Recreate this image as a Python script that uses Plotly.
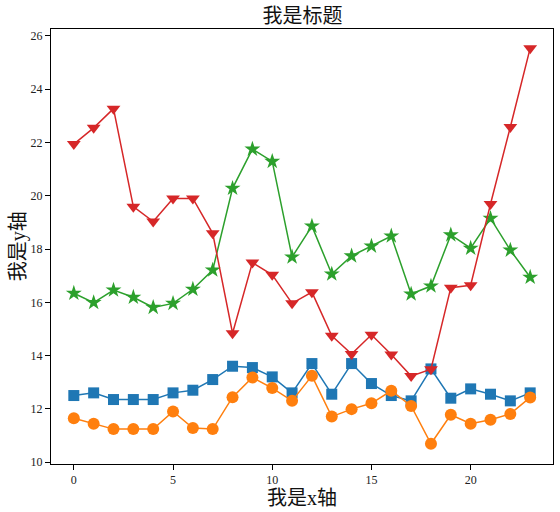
import plotly.graph_objects as go

x = list(range(24))

blue = [12.5, 12.6, 12.35, 12.35, 12.35, 12.6, 12.7, 13.1, 13.6, 13.55, 13.2, 12.6,
        13.7, 12.55, 13.7, 12.95, 12.5, 12.3, 13.5, 12.4, 12.75, 12.55, 12.3, 12.6]
orange = [11.65, 11.44, 11.24, 11.24, 11.24, 11.9, 11.28, 11.24, 12.44, 13.18, 12.78, 12.3,
          13.24, 11.71, 11.99, 12.21, 12.68, 12.11, 10.69, 11.78, 11.44, 11.59, 11.81, 12.43]
green = [16.34, 15.99, 16.46, 16.19, 15.81, 15.96, 16.49, 17.21, 20.28, 21.75, 21.29, 17.7,
         18.86, 17.06, 17.74, 18.11, 18.49, 16.31, 16.61, 18.53, 18.03, 19.15, 17.96, 16.94]
red = [21.94, 22.55, 23.27, 19.59, 19.03, 19.9, 19.9, 18.59, 14.84, 17.49, 17.03, 15.96,
       16.38, 14.74, 14.06, 14.78, 14.04, 13.23, 13.49, 16.55, 16.64, 19.69, 22.58, 25.54]

x_ticks = [0, 5, 10, 15, 20]
y_ticks = [10, 12, 14, 16, 18, 20, 22, 24, 26]

series = [
    (blue, "#1f77b4", "square", 11),
    (orange, "#ff7f0e", "circle", 12),
    (green, "#2ca02c", "star", 12),
    (red, "#d62728", "triangle-down", 12),
]

FONT = "Liberation Serif, Noto Sans CJK SC, serif"

fig = go.Figure()
for ys, color, symbol, size in series:
    fig.add_trace(
        go.Scatter(
            x=x,
            y=ys,
            mode="lines+markers",
            line=dict(color=color, width=1.5),
            marker=dict(symbol=symbol, size=size, color=color, line=dict(width=0)),
        )
    )

axis_common = dict(
    showline=True,
    linecolor="black",
    linewidth=1,
    mirror=True,
    ticks="outside",
    ticklen=5,
    tickcolor="black",
    showgrid=False,
    zeroline=False,
    automargin=False,
    tickfont=dict(family=FONT, size=12, color="#222"),
)

fig.update_xaxes(
    range=[-1.15, 24.15],
    tickvals=x_ticks,
    title=dict(text="我是x轴", font=dict(family=FONT, size=20, color="#111"), standoff=2),
    **axis_common,
)
fig.update_yaxes(
    range=[9.93, 26.26],
    tickvals=y_ticks,
    **axis_common,
)

# y axis title as an annotation so it sits where the reference has it
fig.add_annotation(
    text="我是y轴",
    xref="paper",
    yref="paper",
    x=-0.064,
    y=0.5,
    xanchor="center",
    yanchor="middle",
    textangle=-90,
    showarrow=False,
    font=dict(family=FONT, size=20, color="#111"),
)

fig.update_layout(
    width=560,
    height=512,
    showlegend=False,
    plot_bgcolor="white",
    paper_bgcolor="white",
    title=dict(
        text="我是标题",
        font=dict(family=FONT, size=20, color="#111"),
        x=0.54,
        xanchor="center",
        y=0.968,
        yanchor="middle",
    ),
    margin=dict(l=51, r=7, t=29, b=48),
)

# page body has a default 8px margin, drop it so the figure sits at 0,0
fig.write_html(
    "out.html",
    config={"displayModeBar": False},
    post_script="document.body.style.margin='0';",
)
